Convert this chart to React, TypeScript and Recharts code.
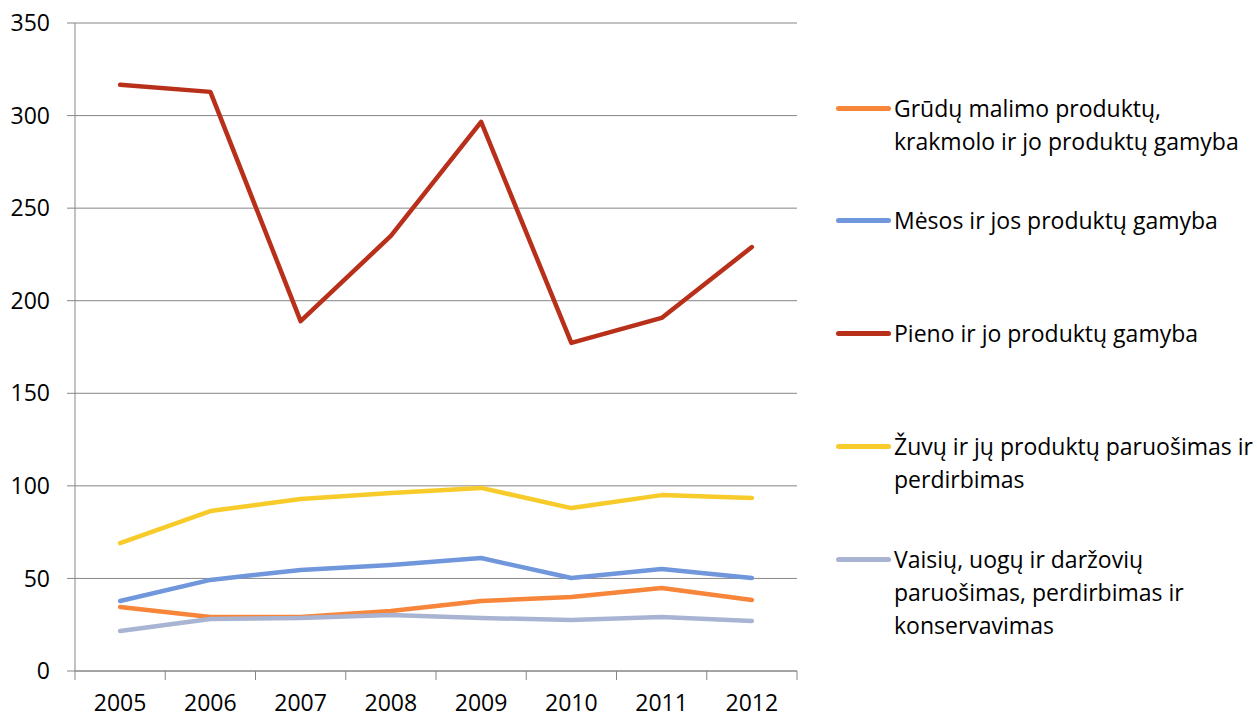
import React from 'react';
import { LineChart, Line, XAxis, YAxis, CartesianGrid, Legend } from 'recharts';

const years = ['2005', '2006', '2007', '2008', '2009', '2010', '2011', '2012'];
const grudu = [34.6, 29.2, 29.2, 32.4, 37.8, 40.0, 44.8, 38.4];
const mesos = [37.8, 49.2, 54.6, 57.3, 61.0, 50.2, 55.1, 50.2];
const pieno = [316.6, 312.8, 189.0, 235.0, 296.6, 177.2, 190.7, 229.0];
const zuvu = [69.1, 86.4, 92.9, 96.2, 98.9, 88.0, 95.0, 93.5];
const vaisiu = [21.6, 28.1, 28.6, 30.3, 28.6, 27.6, 29.2, 27.0];
const yTicks = [0, 50, 100, 150, 200, 250, 300, 350];

const seriesNames = [
  'Grūdų malimo produktų, krakmolo ir jo produktų gamyba',
  'Mėsos ir jos produktų gamyba',
  'Pieno ir jo produktų gamyba',
  'Žuvų ir jų produktų paruošimas ir perdirbimas',
  'Vaisių, uogų ir daržovių paruošimas, perdirbimas ir konservavimas',
];
const legendLines = [
  ['Grūdų malimo produktų,', 'krakmolo ir jo produktų gamyba'],
  ['Mėsos ir jos produktų gamyba'],
  ['Pieno ir jo produktų gamyba'],
  ['Žuvų ir jų produktų paruošimas ir', 'perdirbimas'],
  ['Vaisių, uogų ir daržovių', 'paruošimas, perdirbimas ir', 'konservavimas'],
];
const seriesValues = [grudu, mesos, pieno, zuvu, vaisiu];
const colors = ['#F7853A', '#7096DC', '#B8301A', '#F6CB2A', '#A8B4D2'];

const data = years.map((y, i) => {
  const row: Record<string, string | number> = { year: y };
  seriesValues.forEach((s, k) => {
    row['s' + k] = s[i];
  });
  return row;
});

const FONT = '"Open Sans", sans-serif';
const FS = 23;
const AXIS = '#868686';
const W = 1257;
const H = 718;
const PLOT_LEFT = 75;
const PLOT_RIGHT = 797;
const PLOT_TOP = 23;
const PLOT_BOTTOM = 671;
const BW = (PLOT_RIGHT - PLOT_LEFT) / years.length;

const XTick = (props: any) => {
  const { x, y, payload, index } = props;
  return (
    <g>
      <line x1={x - BW / 2} x2={x - BW / 2} y1={y} y2={y + 9} stroke={AXIS} strokeWidth={1} />
      {index === years.length - 1 && (
        <line x1={x + BW / 2} x2={x + BW / 2} y1={y} y2={y + 9} stroke={AXIS} strokeWidth={1} />
      )}
      <text x={x} y={y + 40} textAnchor="middle" fontFamily={FONT} fontSize={FS} fill="#000">
        {payload.value}
      </text>
    </g>
  );
};

const renderLegend = (props: any) => {
  const payload = props.payload || [];
  return (
    <div style={{ position: 'relative', width: W, height: H }}>
      {payload.map((p: any, i: number) => {
        const found = seriesNames.indexOf(p.value);
        const idx = found >= 0 ? found : i;
        const lines = legendLines[idx];
        const cy = 108 + idx * 112.75;
        return (
          <div key={idx}>
            <div
              style={{
                position: 'absolute',
                left: 836,
                top: cy - 2.5,
                width: 55,
                height: 5,
                borderRadius: 2.5,
                background: p.color,
              }}
            />
            <div
              style={{
                position: 'absolute',
                left: 894,
                top: cy - 16.5,
                fontFamily: FONT,
                fontSize: FS,
                lineHeight: '33px',
                color: '#000',
                whiteSpace: 'nowrap',
                textAlign: 'left',
              }}
            >
              {lines.map((l, j) => (
                <div key={j}>{l}</div>
              ))}
            </div>
          </div>
        );
      })}
    </div>
  );
};

export default function App() {
  return (
    <div style={{ position: 'absolute', left: 0, top: 0, width: W, height: H, background: '#fff' }}>
      <LineChart
        width={W}
        height={H}
        data={data}
        margin={{ top: PLOT_TOP, right: W - PLOT_RIGHT, bottom: 0, left: PLOT_LEFT - 60 }}
      >
        <CartesianGrid vertical={false} stroke={AXIS} strokeWidth={1} />
        <XAxis
          dataKey="year"
          scale="band"
          axisLine={{ stroke: AXIS, strokeWidth: 1 }}
          tickLine={false}
          tickSize={0}
          tickMargin={0}
          tick={<XTick />}
          interval={0}
          height={H - PLOT_BOTTOM}
        />
        <YAxis
          width={60}
          domain={[0, 350]}
          ticks={yTicks}
          interval={0}
          axisLine={{ stroke: AXIS, strokeWidth: 1 }}
          tickLine={{ stroke: AXIS, strokeWidth: 1 }}
          tickSize={8}
          tickMargin={17}
          tick={{ fontFamily: FONT, fontSize: FS, fill: '#000' }}
        />
        <Legend
          layout="horizontal"
          align="center"
          verticalAlign="middle"
          wrapperStyle={{ left: 0, top: 0, width: W, height: H, pointerEvents: 'none' }}
          content={renderLegend}
        />
        {seriesValues.map((_, k) => (
          <Line
            key={k}
            type="linear"
            dataKey={'s' + k}
            name={seriesNames[k]}
            stroke={colors[k]}
            strokeWidth={4.5}
            strokeLinecap="round"
            strokeLinejoin="round"
            dot={false}
            activeDot={false}
            isAnimationActive={false}
          />
        ))}
      </LineChart>
    </div>
  );
}
